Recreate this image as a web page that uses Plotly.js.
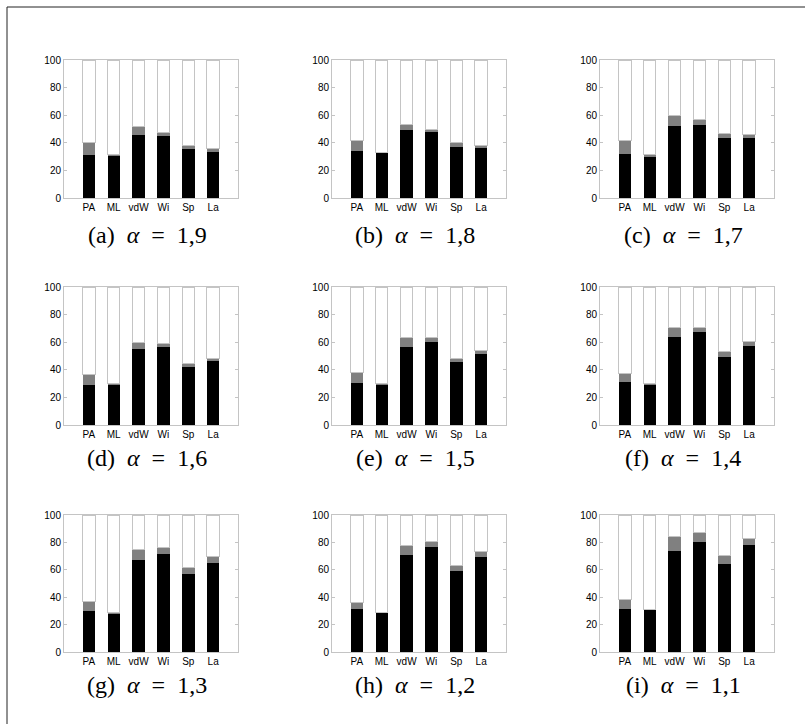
<!DOCTYPE html>
<html>
<head>
<meta charset="utf-8">
<script src="https://cdn.plot.ly/plotly-3.0.1.min.js"></script>
<style>html,body{margin:0;padding:0;background:#fff;}#chart{width:805px;height:724px;}</style>
</head>
<body>
<div id="chart"></div>
<script>
// ---- data ----
const categories = ['PA', 'ML', 'vdW', 'Wi', 'Sp', 'La'];
const panelLetters = ['(a)', '(b)', '(c)', '(d)', '(e)', '(f)', '(g)', '(h)', '(i)'];
const alphaValues = ['1,9', '1,8', '1,7', '1,6', '1,5', '1,4', '1,3', '1,2', '1,1'];
const yTicks = [0, 20, 40, 60, 80, 100];

// black (lower) segment heights per panel
const blackA = [31.2, 30.2, 45.9, 44.9, 35.5, 33.6];
const blackB = [34.1, 32.4, 49.3, 47.6, 37.2, 36.2];
const blackC = [31.6, 30.0, 51.9, 53.1, 43.7, 43.5];
const blackD = [29.1, 29.1, 55.0, 56.3, 42.3, 46.4];
const blackE = [30.3, 29.3, 56.3, 60.1, 45.4, 51.2];
const blackF = [31.3, 29.3, 63.9, 67.3, 49.3, 57.5];
const blackG = [29.9, 28.0, 67.4, 71.3, 57.2, 65.2];
const blackH = [31.6, 28.5, 70.6, 76.6, 59.1, 69.6];
const blackI = [31.4, 30.4, 73.7, 80.5, 64.2, 78.3];

// top of gray (upper) segment per panel
const totalA = [40.1, 31.2, 51.9, 47.8, 38.4, 36.0];
const totalB = [41.5, 33.3, 53.6, 50.0, 40.1, 38.4];
const totalC = [41.5, 31.2, 60.1, 57.2, 46.9, 46.1];
const totalD = [36.8, 29.8, 59.9, 59.4, 44.7, 48.3];
const totalE = [38.2, 30.0, 63.2, 63.5, 48.3, 54.3];
const totalF = [37.5, 30.0, 70.7, 70.4, 53.4, 60.6];
const totalG = [37.0, 29.2, 74.9, 76.4, 62.0, 69.6];
const totalH = [36.5, 29.2, 77.4, 80.3, 63.3, 73.0];
const totalI = [38.0, 31.1, 84.2, 86.9, 70.8, 83.2];

const blacks = [blackA, blackB, blackC, blackD, blackE, blackF, blackG, blackH, blackI];
const totals = [totalA, totalB, totalC, totalD, totalE, totalF, totalG, totalH, totalI];

// ---- layout geometry (pixels) ----
const W = 805, H = 724;
const colX = [[64, 238], [332, 506], [600, 774]];
const rowY = [[60, 198], [287, 425], [515, 652]];
const captionOffset = [37, 33, 33];

const traces = [];
const layout = {
  width: W, height: H,
  margin: {l: 0, r: 0, t: 0, b: 0},
  paper_bgcolor: '#ffffff', plot_bgcolor: '#ffffff',
  barmode: 'stack', bargap: 0.5,
  showlegend: false,
  font: {family: 'Liberation Sans, Arial, sans-serif', size: 10, color: '#000'},
  annotations: [], shapes: []
};

for (let i = 0; i < 9; i++) {
  const n = i + 1;
  const xa = 'x' + (n === 1 ? '' : n), ya = 'y' + (n === 1 ? '' : n);
  const black = blacks[i];
  const gray = black.map((b, k) => totals[i][k] - b);
  const white = totals[i].map(t => 100 - t);
  traces.push({type: 'bar', x: categories, y: black, xaxis: xa, yaxis: ya,
    marker: {color: '#000000', line: {width: 0}}, hoverinfo: 'skip'});
  traces.push({type: 'bar', x: categories, y: gray, xaxis: xa, yaxis: ya,
    marker: {color: '#808080', line: {width: 0}}, hoverinfo: 'skip'});
  traces.push({type: 'bar', x: categories, y: white, xaxis: xa, yaxis: ya,
    marker: {color: '#ffffff', line: {color: '#c4c4c4', width: 1}}, hoverinfo: 'skip'});

  const c = i % 3, r = Math.floor(i / 3);
  const xd = [colX[c][0] / W, colX[c][1] / W];
  const yd = [1 - rowY[r][1] / H, 1 - rowY[r][0] / H];
  layout['xaxis' + (n === 1 ? '' : n)] = {
    domain: xd, anchor: ya, type: 'category', range: [-1, 6],
    showline: true, mirror: true, linecolor: '#c4c4c4', linewidth: 1,
    ticks: '', showgrid: false, zeroline: false, fixedrange: true,
    tickfont: {size: 10, color: '#000'}
  };
  layout['yaxis' + (n === 1 ? '' : n)] = {
    domain: yd, anchor: xa, range: [0, 100], tickvals: yTicks,
    showline: true, mirror: 'ticks', linecolor: '#c4c4c4', linewidth: 1,
    ticks: 'inside', ticklen: 3, tickcolor: '#c4c4c4',
    showgrid: false, zeroline: false, fixedrange: true,
    tickfont: {size: 10, color: '#000'}
  };
  layout.annotations.push({
    xref: 'paper', yref: 'paper',
    x: (colX[c][0] + colX[c][1]) / 2 / W - 4 / W,
    y: 1 - (rowY[r][1] + captionOffset[r]) / H,
    xanchor: 'center', yanchor: 'middle', showarrow: false,
    text: panelLetters[i] + '&nbsp;&nbsp;<i>α</i>&nbsp;&nbsp;=&nbsp;&nbsp;' + alphaValues[i],
    font: {family: 'Liberation Serif, Times New Roman, serif', size: 24, color: '#000'}
  });
}

// outer frame (top and left edges visible)
layout.shapes.push({type: 'line', xref: 'paper', yref: 'paper',
  x0: 7 / W, x1: 1, y0: 1 - 7 / H, y1: 1 - 7 / H, line: {color: '#222', width: 1}});
layout.shapes.push({type: 'line', xref: 'paper', yref: 'paper',
  x0: 7 / W, x1: 7 / W, y0: 1 - 7 / H, y1: 0, line: {color: '#222', width: 1}});

Plotly.newPlot('chart', traces, layout, {staticPlot: true, displayModeBar: false});
</script>
</body>
</html>
